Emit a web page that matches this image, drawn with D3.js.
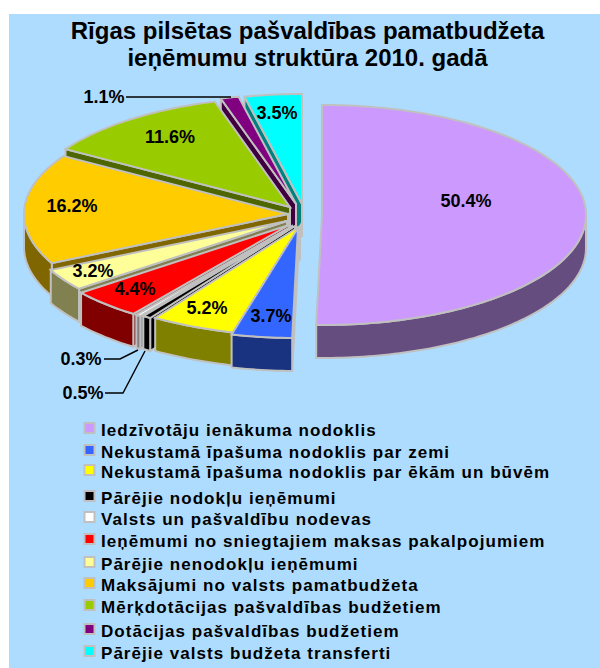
<!DOCTYPE html>
<html><head><meta charset="utf-8">
<script src="https://cdn.jsdelivr.net/npm/d3@7/dist/d3.min.js"></script>
<style>html,body{margin:0;padding:0;background:#fff}svg{display:block}text{font-family:"Liberation Sans",Arial,sans-serif;font-weight:bold;fill:#000}</style>
</head><body><svg id="c" width="600" height="668"></svg>
<script>
const titleLines = ["Rīgas pilsētas pašvaldības pamatbudžeta", "ieņēmumu struktūra 2010. gadā"];
const categories = ["Iedzīvotāju ienākuma nodoklis","Nekustamā īpašuma nodoklis par zemi","Nekustamā īpašuma nodoklis par ēkām un būvēm","Pārējie nodokļu ieņēmumi","Valsts un pašvaldību nodevas","Ieņēmumi no sniegtajiem maksas pakalpojumiem","Pārējie nenodokļu ieņēmumi","Maksājumi no valsts pamatbudžeta","Mērķdotācijas pašvaldības budžetiem","Dotācijas pašvaldības budžetiem","Pārējie valsts budžeta transferti"];
const values = [50.4,3.7,5.2,0.5,0.3,4.4,3.2,16.2,11.6,1.1,3.5];
const topColors = ["#cc99ff","#3366ff","#ffff00","#000000","#ffffff","#ff0000","#ffff99","#ffcc00","#99cc00","#800080","#00ffff"];
const wallColors = ["#664d80","#1a3380","#808000","#000000","#808080","#800000","#808050","#806600","#4d6600","#400040","#008080"];
// layout
const sliceCenters = [[322,215],[298,228],[300,226],[295,226],[292,226],[289,225],[287,221],[288,214],[290,207],[296,204],[302,204]];
const labelOffsets = [[144,-8],[-27,94],[-93,88],null,null,[-154,70],[-194,56],[-216,-2],[-120,-64],null,[-25,-85]];
const outsideLabels = [
 {text:"1.1%",x:104,y:103,pts:[[126,97],[231,97]]},
 {text:"0.3%",x:81,y:365,pts:[[104,359],[120,359],[138,350]]},
 {text:"0.5%",x:83,y:399,pts:[[105,393],[123,393],[145,351]]}];
const legendBase = [436,458,478,504,525,547,570,591,613,637,659];
const RX=264, RY=110, DEPTH=33;

const svg=d3.select("#c");
svg.append("rect").attr("x",9).attr("y",14).attr("width",591).attr("height",654).attr("fill","#aedcff");
svg.selectAll(".t").data(titleLines).join("text").attr("class","t").attr("x",307.5).attr("y",(d,i)=>39+i*26.5)
  .attr("text-anchor","middle").attr("font-size",24).text(d=>d);

const arcs=d3.pie().sort(null).startAngle(0).endAngle(2*Math.PI)(values);
const px=(c,a)=>c[0]+RX*Math.sin(a), py=(c,a)=>c[1]-RY*Math.cos(a);
const line=d3.line();
const sample=(a0,a1)=>{const n=Math.max(2,Math.ceil(Math.abs(a1-a0)/0.02));return d3.range(n+1).map(i=>a0+(a1-a0)*i/n);};
const STROKE="#c0c0c0";
function poly(p,fill){svg.append("path").attr("d",line(p)+"Z").attr("fill",fill).attr("stroke",STROKE).attr("stroke-width",2).attr("stroke-linejoin","miter");}
const order=[0,10,9,8,7,6,5,4,3,2,1];
order.forEach(i=>{
  const a=arcs[i],c=sliceCenters[i];
  if(i>0){
    const s=[px(c,a.startAngle),py(c,a.startAngle)];
    poly([c,s,[s[0],s[1]+DEPTH],[c[0],c[1]+DEPTH]],wallColors[i]);
  }
  const a0=Math.max(a.startAngle,Math.PI/2),a1=Math.min(a.endAngle,3*Math.PI/2);
  if(a1>a0){
    const angs=sample(a0,a1);
    const top=angs.map(t=>[px(c,t),py(c,t)]);
    const bot=top.map(p=>[p[0],p[1]+DEPTH]).reverse();
    poly(top.concat(bot),wallColors[i]);
  }
  const pts=[c].concat(sample(a.startAngle,a.endAngle).map(t=>[px(c,t),py(c,t)]));
  poly(pts,topColors[i]);
});
values.forEach((v,i)=>{
  if(!labelOffsets[i])return;
  svg.append("text").attr("x",sliceCenters[i][0]+labelOffsets[i][0]).attr("y",sliceCenters[i][1]+labelOffsets[i][1])
    .attr("text-anchor","middle").attr("font-size",18).text(d3.format(".1f")(v)+"%");
});
outsideLabels.forEach(o=>{
  svg.append("path").attr("d",line(o.pts)).attr("fill","none").attr("stroke","#000").attr("stroke-width",1.4);
  svg.append("text").attr("x",o.x).attr("y",o.y).attr("text-anchor","middle").attr("font-size",18).text(o.text);
});
categories.forEach((t,i)=>{
  const y=legendBase[i];
  svg.append("rect").attr("x",84.5).attr("y",y-13).attr("width",10).attr("height",10).attr("fill",topColors[i]).attr("stroke",STROKE).attr("stroke-width",2);
  svg.append("text").attr("x",101).attr("y",y).attr("font-size",17).attr("letter-spacing",1.04).text(t);
});
</script></body></html>
